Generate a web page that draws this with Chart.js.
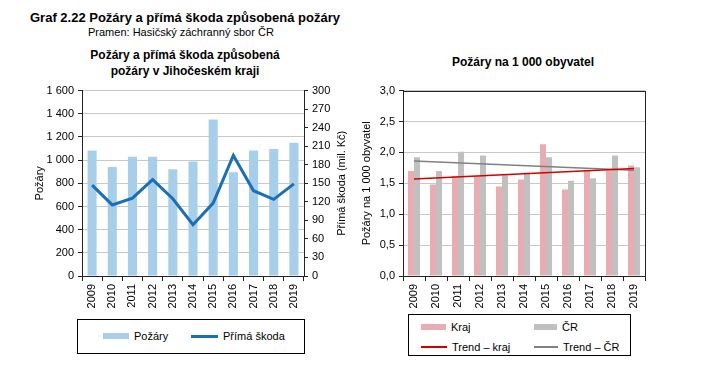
<!DOCTYPE html>
<html><head><meta charset="utf-8">
<script src="https://cdn.jsdelivr.net/npm/chart.js@4"></script>
<style>
body{margin:0;background:#fff;font-family:"Liberation Sans",Arial,sans-serif;width:710px;height:373px;overflow:hidden;position:relative;color:#000}
.abs{position:absolute;white-space:nowrap}
.leg{position:absolute;border:1px solid #000;background:#fff;font-size:11px}
.sw{position:absolute}
</style></head><body>
<div class="abs" style="left:30px;top:10px;font-size:13px;font-weight:bold">Graf 2.22 Požáry a přímá škoda způsobená požáry</div>
<div class="abs" style="left:88px;top:26px;font-size:11px">Pramen: Hasičský záchranný sbor ČR</div>
<div class="abs" style="left:60px;width:250px;top:47px;font-size:12px;font-weight:bold;text-align:center;line-height:16px">Požáry a přímá škoda způsobená<br>požáry v Jihočeském kraji</div>
<div class="abs" style="left:400px;width:246px;top:55px;font-size:12px;font-weight:bold;text-align:center">Požáry na 1 000 obyvatel</div>
<canvas id="c1" style="position:absolute;left:0;top:80px"></canvas>
<canvas id="c2" style="position:absolute;left:360px;top:80px"></canvas>
<div id="leg1" class="leg" style="left:77px;top:319px;width:226px;height:33px"></div>
<div id="leg2" class="leg" style="left:408px;top:314px;width:221px;height:40px"></div>
<script>
const years = ["2009","2010","2011","2012","2013","2014","2015","2016","2017","2018","2019"];
const pozary = [1083, 941, 1029, 1030, 922, 989, 1351, 896, 1083, 1097, 1150];
const primaSkoda = [147, 115, 126, 156, 125, 83, 118, 195, 138, 124, 149];
const krajNa1000 = [1.70, 1.48, 1.62, 1.62, 1.45, 1.56, 2.13, 1.40, 1.70, 1.71, 1.79];
const crNa1000 = [1.92, 1.70, 2.01, 1.95, 1.63, 1.67, 1.92, 1.54, 1.58, 1.95, 1.76];
const trendKraj = [1.57, null, null, null, null, null, null, null, null, null, 1.74];
const trendCR = [1.86, null, null, null, null, null, null, null, null, null, 1.71];
const leftTicks = [0, 200, 400, 600, 800, 1000, 1200, 1400, 1600];
const rightTicks = [0, 30, 60, 90, 120, 150, 180, 210, 240, 270, 300];
const rateTicks = [0, 0.5, 1.0, 1.5, 2.0, 2.5, 3.0];

const C = {blue:'#a8cfea', line:'#1a6fb5', pink:'#e8adb2', gray:'#c0c0c0', red:'#d40000', trendGray:'#808080', grid:'#c8c8c8', axis:'#222'};
const FONT = {family:'"Liberation Sans", Arial, sans-serif', size:11};
Chart.defaults.font = FONT;
Chart.defaults.color = '#000';
Chart.defaults.animation = false;

function thous(v){return String(v).replace(/\B(?=(\d{3})+(?!\d))/g,' ');}

const fitW = w => (s)=>{s.width = w;};
const fitH = h => (s)=>{s.height = h;};

// right-axis title drawn reading bottom-to-top (like the reference)
const rightTitle = {id:'rightTitle', afterDraw(ch, args, opts){
  const ctx = ch.ctx, a = ch.chartArea;
  ctx.save();
  ctx.font = '11px "Liberation Sans", Arial, sans-serif';
  ctx.fillStyle = '#000'; ctx.textAlign = 'center'; ctx.textBaseline = 'middle';
  ctx.translate(opts.x, (a.top + a.bottom)/2);
  ctx.rotate(-Math.PI/2);
  ctx.fillText(opts.text, 0, 0);
  ctx.restore();
}};

const c1 = document.getElementById('c1');
c1.width = 360; c1.height = 240;
new Chart(c1, {
  type:'bar',
  data:{labels:years, datasets:[
    {type:'line', label:'Přímá škoda', data:primaSkoda, yAxisID:'y1', borderColor:C.line, borderWidth:3, pointRadius:0, tension:0, order:0},
    {type:'bar', label:'Požáry', data:pozary, yAxisID:'y', backgroundColor:C.blue, barPercentage:0.9, categoryPercentage:0.5, order:1}
  ]},
  options:{responsive:false, maintainAspectRatio:false,
    layout:{padding:{top:7,left:0,right:0,bottom:0}},
    plugins:{legend:{display:false}, tooltip:{enabled:false}, rightTitle:{text:'Přímá škoda (mil. Kč)', x:342}},
    scales:{
      x:{grid:{display:true, drawOnChartArea:false, offset:true, tickLength:5, color:C.axis}, border:{color:C.axis,width:1},
         ticks:{minRotation:90, maxRotation:90, padding:3}, afterFit:fitH(44)},
      y:{position:'left', min:0, max:1600, afterBuildTicks:(s)=>{s.ticks = leftTicks.map(v=>({value:v}));},
         ticks:{callback:v=>thous(v), padding:4}, grid:{color:C.grid, tickLength:4, tickColor:C.axis}, border:{color:C.axis,width:1},
         title:{display:true, text:'Požáry', padding:{top:33,bottom:0}}, afterFit:fitW(82)},
      y1:{position:'right', min:0, max:300, afterBuildTicks:(s)=>{s.ticks = rightTicks.map(v=>({value:v}));},
         ticks:{padding:4}, grid:{drawOnChartArea:false, tickLength:4, color:C.axis}, border:{color:C.axis,width:1},
         afterFit:fitW(56)}
    }
  },
  plugins:[rightTitle]
});

const boxPlugin = {id:'box', afterDraw(ch){const a=ch.chartArea, ctx=ch.ctx; ctx.save(); ctx.strokeStyle=C.axis; ctx.lineWidth=1; ctx.strokeRect(Math.round(a.left)+0.5, Math.round(a.top)+0.5, Math.round(a.right-a.left), Math.round(a.bottom-a.top)); ctx.restore();}};

const c2 = document.getElementById('c2');
c2.width = 350; c2.height = 240;
new Chart(c2, {
  type:'bar',
  data:{labels:years, datasets:[
    {type:'line', label:'Trend – kraj', data:trendKraj, borderColor:C.red, borderWidth:1.5, pointRadius:0, spanGaps:true, order:0},
    {type:'line', label:'Trend – ČR', data:trendCR, borderColor:C.trendGray, borderWidth:1.5, pointRadius:0, spanGaps:true, order:0},
    {type:'bar', label:'Kraj', data:krajNa1000, backgroundColor:C.pink, barPercentage:1, categoryPercentage:0.55, order:1},
    {type:'bar', label:'ČR', data:crNa1000, backgroundColor:C.gray, barPercentage:1, categoryPercentage:0.55, order:1}
  ]},
  options:{responsive:false, maintainAspectRatio:false,
    layout:{padding:{top:6,left:0,right:65,bottom:0}},
    plugins:{legend:{display:false}, tooltip:{enabled:false}},
    scales:{
      x:{grid:{display:true, drawOnChartArea:false, offset:true, tickLength:5, color:C.axis}, border:{color:C.axis,width:1},
         ticks:{minRotation:90, maxRotation:90, padding:3}, afterFit:fitH(44)},
      y:{min:0, max:3, afterBuildTicks:(s)=>{s.ticks = rateTicks.map(v=>({value:v}));},
         ticks:{callback:v=>v.toFixed(1).replace('.',','), padding:4}, grid:{color:C.grid, tickLength:4, tickColor:C.axis}, border:{color:C.axis,width:1},
         title:{display:true, text:'Požáry na 1 000 obyvatel', padding:{top:0,bottom:4}}, afterFit:fitW(43)}
    }
  },
  plugins:[boxPlugin]
});

function legend(el, items){
  items.forEach(it=>{
    const s=document.createElement('div'); s.className='sw';
    s.style.cssText=`position:absolute;left:${it.x}px;top:${it.y - it.h/2}px;width:${it.w}px;height:${it.h}px;background:${it.c}`;
    el.appendChild(s);
    const t=document.createElement('div'); t.className='abs';
    t.style.cssText=`left:${it.x+it.w+5}px;top:${it.y-7}px;line-height:14px`;
    t.textContent=it.label; el.appendChild(t);
  });
}
legend(document.getElementById('leg1'), [
  {x:25,y:16,w:26,h:6,c:C.blue,label:'Požáry'},
  {x:113,y:16,w:27,h:3,c:C.line,label:'Přímá škoda'}
]);
legend(document.getElementById('leg2'), [
  {x:12,y:12,w:25,h:6,c:C.pink,label:'Kraj'},
  {x:125,y:12,w:23,h:6,c:C.gray,label:'ČR'},
  {x:12,y:32,w:26,h:2,c:C.red,label:'Trend – kraj'},
  {x:125,y:32,w:24,h:2,c:C.trendGray,label:'Trend – ČR'}
]);
</script>
</body></html>
